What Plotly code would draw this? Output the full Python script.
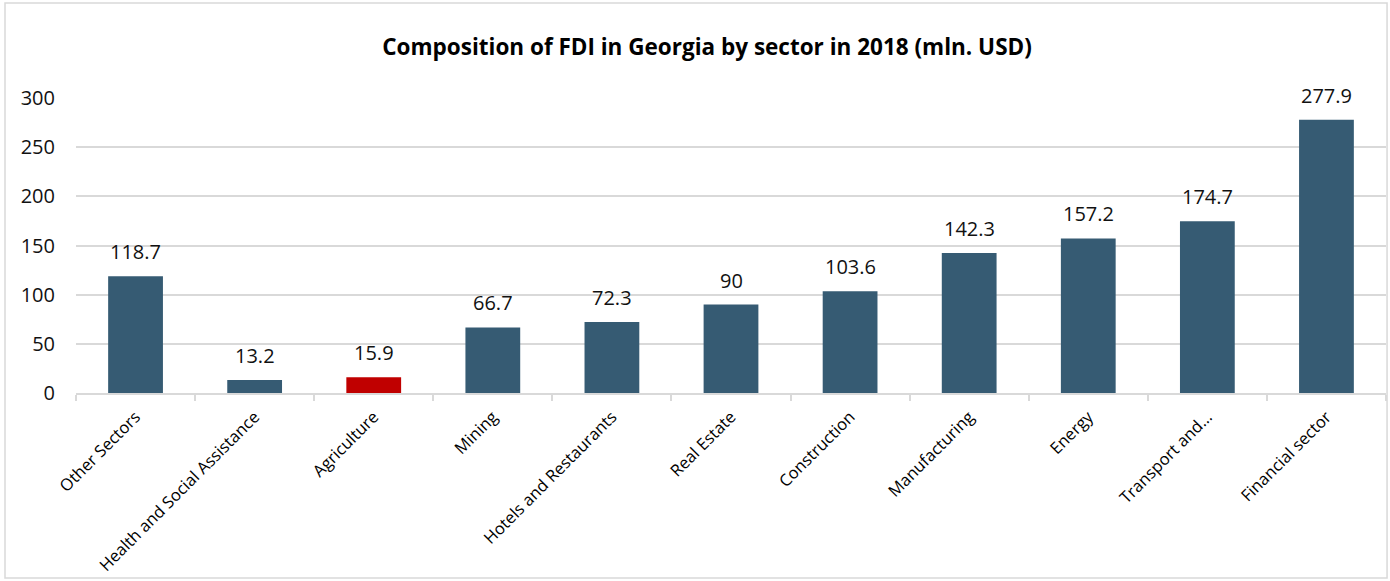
import plotly.graph_objects as go

# FDI inflows to Georgia by sector, 2018 (mln. USD)
sectors = [
    "Other Sectors", "Health and Social Assistance", "Agriculture", "Mining",
    "Hotels and Restaurants", "Real Estate", "Construction", "Manufacturing",
    "Energy", "Transport and...", "Financial sector",
]
values = [118.7, 13.2, 15.9, 66.7, 72.3, 90, 103.6, 142.3, 157.2, 174.7, 277.9]
label_texts = ["118.7", "13.2", "15.9", "66.7", "72.3", "90", "103.6", "142.3", "157.2", "174.7", "277.9"]
y_ticks = [0, 50, 100, 150, 200, 250, 300]

BASE = "#365B73"
HIGHLIGHT = "#C00000"
GRID = "#D9D9D9"
FONT = "Open Sans"

colors = [HIGHLIGHT if s == "Agriculture" else BASE for s in sectors]

fig = go.Figure(
    go.Bar(
        x=sectors,
        y=values,
        marker=dict(color=colors, line=dict(width=0)),
        hoverinfo="x+y",
    )
)

# value labels above each bar
for s, v, t in zip(sectors, values, label_texts):
    fig.add_annotation(
        x=s, y=v, text=t, showarrow=False, yanchor="bottom", yshift=9,
        font=dict(family=FONT, size=20, color="#111111"),
    )

# outer frame of the chart
fig.add_shape(
    type="rect", xref="paper", yref="paper",
    x0=-0.0542, x1=1.0008, y0=-0.627, y1=1.322,
    line=dict(color=GRID, width=1.5), fillcolor="rgba(0,0,0,0)", layer="below",
)

fig.update_layout(
    width=1390, height=581,
    margin=dict(l=76, r=4, t=98, b=188),
    paper_bgcolor="white", plot_bgcolor="white",
    bargap=0.54,
    showlegend=False,
    title=dict(
        text="<b>Composition of FDI in Georgia by sector in 2018 (mln. USD)</b>",
        x=(383 + 1031) / 2 / 1390, xanchor="center",
        y=1 - 47 / 581, yanchor="middle",
        font=dict(family=FONT, size=22.5, color="#000000"),
    ),
    font=dict(family=FONT, color="#111111"),
)

fig.update_xaxes(
    type="category",
    showgrid=False,
    showline=True, linecolor=GRID, linewidth=1.5,
    ticks="outside", tickson="boundaries", ticklen=6, tickcolor=GRID, tickwidth=1.5,
    tickangle=-45, ticklabelstandoff=6,
    tickfont=dict(family=FONT, size=16.5, color="#000000"),
)

fig.update_yaxes(
    range=[0, 300],
    tickvals=y_ticks,
    showgrid=True, gridcolor=GRID, gridwidth=1.5,
    zeroline=False, showline=False,
    ticks="", ticklabelstandoff=20,
    tickfont=dict(family=FONT, size=20, color="#111111"),
)

fig.write_html("out.html")
